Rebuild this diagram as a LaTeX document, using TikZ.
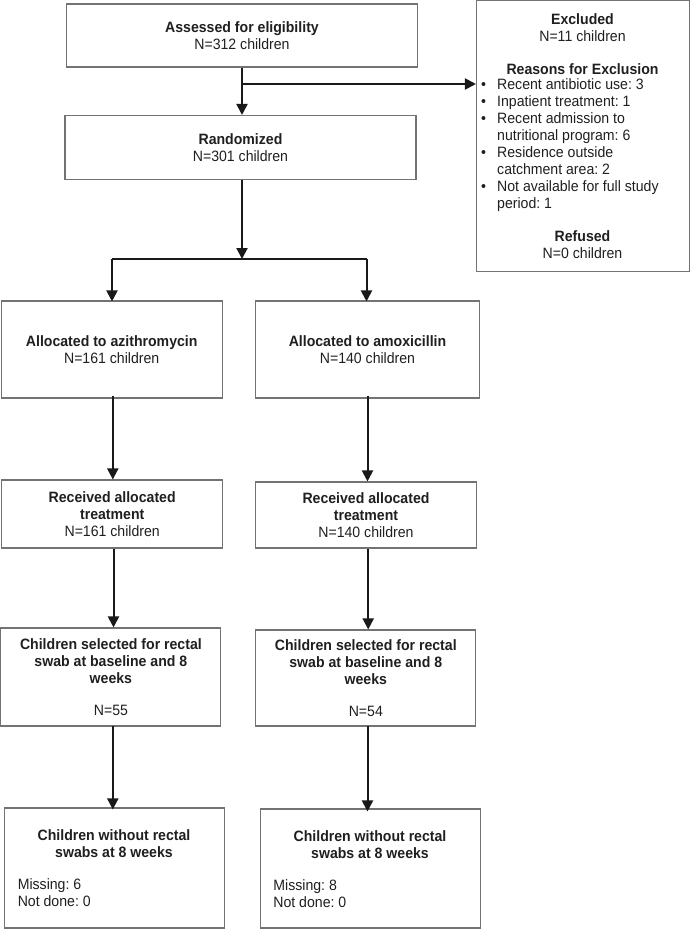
\documentclass[tikz,border=0pt]{standalone}
\usepackage{fontspec}
\setmainfont[FakeStretch=0.94]{Liberation Sans}
\usetikzlibrary{arrows.meta}
\frenchspacing
\begin{document}
\begin{tikzpicture}[x=1pt,y=-1pt,
  box/.style={draw=black!55, line width=1.1pt, inner sep=0pt, align=center,
    font=\fontsize{15}{17}\selectfont, text=black!88},
  txt/.style={inner sep=0pt, align=center, font=\fontsize{15}{17}\selectfont, text=black!88},
  ltxt/.style={inner sep=0pt, align=left, font=\fontsize{15}{17}\selectfont, text=black!88},
  arr/.style={draw=black!90, line width=2pt, -{Triangle[length=11pt,width=11pt]}},
  ln/.style={draw=black!90, line width=2pt}]
\useasboundingbox (0,0) rectangle (691,929);
% boxes
\node[box, minimum width=351, minimum height=63] (assess) at (242,35.5)
  {\textbf{Assessed for eligibility}\\N=312 children};
\node[box, minimum width=213, minimum height=271] (excl) at (583,136) {};
\node[txt] (exclhead) at (582.5,28) {\textbf{Excluded}\\N=11 children};
\node[txt] (reasons) at (582.5,69) {\textbf{Reasons for Exclusion}};
\node[ltxt, anchor=north west] (list) at (481,78)
  {\makebox[16pt][l]{•}Recent antibiotic use: 3\\
   \makebox[16pt][l]{•}Inpatient treatment: 1\\
   \makebox[16pt][l]{•}Recent admission to\\
   \hspace*{16pt}nutritional program: 6\\
   \makebox[16pt][l]{•}Residence outside\\
   \hspace*{16pt}catchment area: 2\\
   \makebox[16pt][l]{•}Not available for full study\\
   \hspace*{16pt}period: 1};
\node[txt] (refused) at (582.5,244.5) {\textbf{Refused}\\N=0 children};
\node[box, minimum width=351, minimum height=64] (rand) at (240.5,147.5)
  {\textbf{Randomized}\\N=301 children};
\node[box, minimum width=221, minimum height=97] (alloc1) at (111.7,349.5)
  {\textbf{Allocated to azithromycin}\\N=161 children};
\node[box, minimum width=224, minimum height=97] (alloc2) at (367.5,349.5)
  {\textbf{Allocated to amoxicillin}\\N=140 children};
\node[box, minimum width=221, minimum height=68] (recv1) at (112.2,514)
  {\textbf{Received allocated}\\\textbf{treatment}\\N=161 children};
\node[box, minimum width=221, minimum height=66] (recv2) at (366,515)
  {\textbf{Received allocated}\\\textbf{treatment}\\N=140 children};
\node[box, minimum width=220, minimum height=98] (sel1) at (110.9,677)
  {\textbf{Children selected for rectal}\\\textbf{swab at baseline and 8}\\\textbf{weeks}\\[15pt]N=55};
\node[box, minimum width=220, minimum height=96] (sel2) at (365.8,678)
  {\textbf{Children selected for rectal}\\\textbf{swab at baseline and 8}\\\textbf{weeks}\\[15pt]N=54};
\node[box, minimum width=220, minimum height=120] (wo1) at (114.6,868) {};
\node[txt] (wo1head) at (114,844) {\textbf{Children without rectal}\\\textbf{swabs at 8 weeks}};
\node[ltxt, anchor=west] (wo1list) at (17.6,892.5) {Missing: 6\\Not done: 0};
\node[box, minimum width=220, minimum height=119] (wo2) at (370.4,868.5) {};
\node[txt] (wo2head) at (370,845) {\textbf{Children without rectal}\\\textbf{swabs at 8 weeks}};
\node[ltxt, anchor=west] (wo2list) at (273.2,893.5) {Missing: 8\\Not done: 0};
% connectors
\coordinate (br1) at (242,84);
\coordinate (split) at (242,259);
\coordinate (sl) at (112,259);
\coordinate (sr) at (366.5,259);
\draw[arr] (assess.south -| br1) -- (rand.north -| br1);
\draw[arr] (br1) -- (excl.west |- br1);
\draw[arr] (rand.south -| split) -- (split);
\draw[ln] (sl) -- (sr);
\draw[arr] (sl) -- ([yshift=-1pt]alloc1.north -| sl);
\draw[arr] (sr) -- ([yshift=-1pt]alloc2.north -| sr);
\coordinate (c1) at (112.8,0);
\coordinate (c2) at (367.5,0);
\coordinate (d1) at (113.5,0);
\coordinate (d2) at (368.2,0);
\draw[arr] ([yshift=3pt]alloc1.south -| c1) -- (recv1.north -| c1);
\draw[arr] ([yshift=3pt]alloc2.south -| c2) -- (recv2.north -| c2);
\draw[arr] (recv1.south -| d1) -- (sel1.north -| d1);
\draw[arr] (recv2.south -| d2) -- (sel2.north -| d2);
\draw[arr] ([yshift=1pt]sel1.south -| c1) -- ([yshift=-2pt]wo1.north -| c1);
\draw[arr] ([yshift=1pt]sel2.south -| c2) -- ([yshift=-3pt]wo2.north -| c2);
\end{tikzpicture}
\end{document}
